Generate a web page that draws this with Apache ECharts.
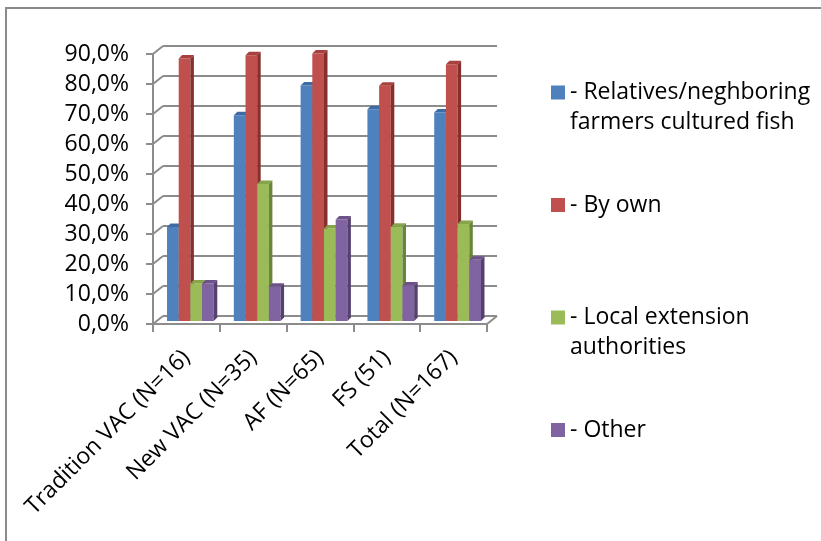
<!DOCTYPE html>
<html>
<head>
<meta charset="utf-8">
<script src="https://cdn.jsdelivr.net/npm/echarts@6/dist/echarts.min.js"></script>
<style>
  html, body { margin: 0; padding: 0; background: #fff; }
  #chart { width: 821px; height: 541px; }
</style>
</head>
<body>
<div id="chart"></div>
<script>
// Source of knowledge about fish culture, share of respondents per farm type (%)
const categories = ['Tradition VAC (N=16)', 'New VAC (N=35)', 'AF (N=65)', 'FS (51)', 'Total (N=167)'];
const seriesNames = [
  '- Relatives/neghboring farmers cultured fish',
  '- By own',
  '- Local extension authorities',
  '- Other'
];
const relatives = [31.3, 68.6, 78.5, 70.6, 69.5];
const byOwn     = [87.5, 88.6, 89.2, 78.4, 85.6];
const extension = [12.5, 45.7, 30.8, 31.4, 32.3];
const other     = [12.5, 11.4, 33.8, 11.8, 20.4];
const yTicks = [0, 10, 20, 30, 40, 50, 60, 70, 80, 90];

// Office palette: front face, top face, side face
const palette = [
  { front: '#4F81BD', top: '#3E6BA3', side: '#2F5584' },
  { front: '#C0504D', top: '#A8403D', side: '#86302E' },
  { front: '#9BBB59', top: '#86A44A', side: '#6A8538' },
  { front: '#8064A2', top: '#6C5289', side: '#55406E' }
];
const seriesValues = [relatives, byOwn, extension, other];

// depth of the chart box (front axes -> back wall) and of each bar
const WALL_DX = 10, WALL_DY = -8;
const BAR_SHIFT_X = 4, BAR_SHIFT_Y = -3;
const BAR_DX = 3.5, BAR_DY = -3.5;
const GROUP_FRAC = 0.70;
const GRID_GRAY = '#8c8c8c';
const FONT = 'Open Sans';
const FONT_SIZE = 23;

function pctLabel(v) {
  return v.toFixed(1).replace('.', ',') + '%';
}

function barRenderer(k) {
  return function (params, api) {
    const cat = api.value(0);
    const v = api.value(1);
    const base = api.coord([cat, 0]);
    const top = api.coord([cat, v]);
    const band = api.size([1, 0])[0];
    const bw = band * GROUP_FRAC / 4;
    const x0 = base[0] - band * GROUP_FRAC / 2 + k * bw + BAR_SHIFT_X;
    const yb = base[1] + BAR_SHIFT_Y;
    const yt = top[1] + BAR_SHIFT_Y;
    const c = palette[k];
    return {
      type: 'group',
      children: [
        { type: 'rect', shape: { x: x0, y: yt, width: bw, height: yb - yt },
          style: { fill: c.front } },
        { type: 'polygon', shape: { points: [[x0, yt], [x0 + bw, yt], [x0 + bw + BAR_DX, yt + BAR_DY], [x0 + BAR_DX, yt + BAR_DY]] },
          style: { fill: c.top } },
        { type: 'polygon', shape: { points: [[x0 + bw, yt], [x0 + bw + BAR_DX, yt + BAR_DY], [x0 + bw + BAR_DX, yb + BAR_DY], [x0 + bw, yb]] },
          style: { fill: c.side } }
      ]
    };
  };
}

// side wall connectors from the front value axis to the back wall gridlines
function wallRenderer(params, api) {
  const v = api.value(0);
  const cs = params.coordSys;
  const y = api.coord([0, v])[1];
  const children = [
    { type: 'line', shape: { x1: cs.x, y1: y, x2: cs.x + WALL_DX, y2: y + WALL_DY },
      style: { stroke: GRID_GRAY, lineWidth: 2 } }
  ];
  if (v === 0) {
    children.push({ type: 'line',
      shape: { x1: cs.x + cs.width, y1: y, x2: cs.x + cs.width + WALL_DX, y2: y + WALL_DY },
      style: { stroke: GRID_GRAY, lineWidth: 2 } });
  }
  return { type: 'group', children: children };
}

const legendLines = {
  '- Relatives/neghboring farmers cultured fish': ' \n- Relatives/neghboring\nfarmers cultured fish',
  '- By own': '- By own',
  '- Local extension authorities': ' \n- Local extension\nauthorities',
  '- Other': '- Other'
};

const series = [
  {
    type: 'custom', name: 'wall', xAxisIndex: 0, yAxisIndex: 0, z: 1, silent: true,
    renderItem: wallRenderer, data: yTicks.map(v => [v]), encode: { y: 0 }
  }
];
seriesValues.forEach((vals, k) => {
  series.push({
    type: 'custom',
    name: seriesNames[k],
    xAxisIndex: 0, yAxisIndex: 0, z: 3,
    itemStyle: { color: palette[k].front },
    renderItem: barRenderer(k),
    encode: { x: 0, y: 1 },
    data: vals.map((v, i) => [i, v])
  });
});

const chart = echarts.init(document.getElementById('chart'), null, { renderer: 'canvas' });
chart.setOption({
  animation: false,
  backgroundColor: '#ffffff',
  graphic: [
    { type: 'rect', shape: { x: 6, y: 8, width: 900, height: 600 },
      style: { fill: 'none', stroke: '#8a8a8a', lineWidth: 2 }, z: 0 }
  ],
  grid: [
    { left: 153, right: 334, top: 54, bottom: 217 },
    { left: 153 + WALL_DX, right: 334 - WALL_DX, top: 54 + WALL_DY, bottom: 217 - WALL_DY }
  ],
  xAxis: [
    {
      type: 'category', gridIndex: 0, data: categories,
      axisLine: { lineStyle: { color: GRID_GRAY, width: 2 } },
      axisTick: { show: true, length: 8, lineStyle: { color: GRID_GRAY, width: 2 } },
      axisLabel: { rotate: 45, margin: 30, interval: 0, color: '#000', fontSize: FONT_SIZE, fontFamily: FONT }
    },
    {
      type: 'category', gridIndex: 1, data: categories,
      axisLine: { show: false }, axisTick: { show: false }, axisLabel: { show: false }
    }
  ],
  yAxis: [
    {
      type: 'value', gridIndex: 0, min: 0, max: 90, interval: 10,
      axisLine: { show: true, lineStyle: { color: GRID_GRAY, width: 2 } },
      axisTick: { show: true, length: 7, lineStyle: { color: GRID_GRAY, width: 2 } },
      splitLine: { show: false },
      axisLabel: { color: '#000', fontSize: FONT_SIZE, fontFamily: FONT, margin: 24, formatter: pctLabel }
    },
    {
      type: 'value', gridIndex: 1, min: 0, max: 90, interval: 10,
      axisLine: { show: false }, axisTick: { show: false }, axisLabel: { show: false },
      splitLine: { show: true, lineStyle: { color: GRID_GRAY, width: 2 } }
    }
  ],
  legend: {
    orient: 'vertical',
    left: 551, top: 47.5, padding: 0,
    itemGap: 52.5,
    itemWidth: 14, itemHeight: 14,
    icon: 'rect',
    data: seriesNames,
    formatter: name => legendLines[name],
    textStyle: { color: '#000', fontSize: FONT_SIZE, lineHeight: 30, fontFamily: FONT }
  },
  series: series
});
</script>
</body>
</html>
